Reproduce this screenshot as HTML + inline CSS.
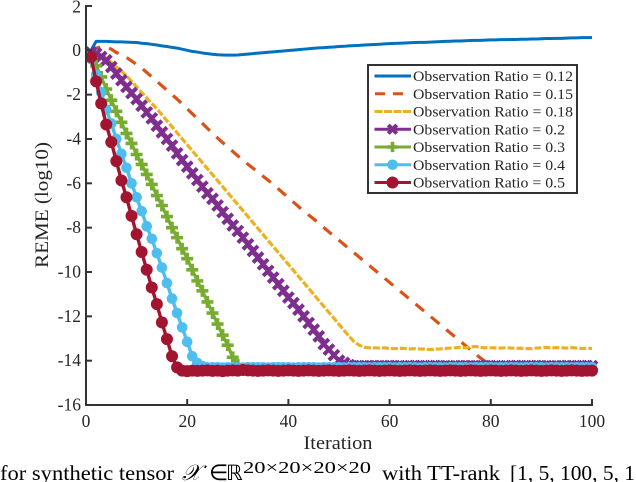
<!DOCTYPE html>
<html>
<head>
<meta charset="utf-8">
<style>
html,body{margin:0;padding:0;background:#fff;}
svg{display:block;}
text{font-family:"Liberation Serif","DejaVu Serif",serif;fill:#262626;}
</style>
</head>
<body>
<svg id="chart" width="636" height="482" viewBox="0 0 636 482" xmlns="http://www.w3.org/2000/svg">
<rect width="636" height="482" fill="#fff"/>
<g id="marks"></g>
<g id="axes"></g>
<text x="338" y="449" font-size="18.5" text-anchor="middle" textLength="69" lengthAdjust="spacingAndGlyphs">Iteration</text>
<text transform="translate(48,205) rotate(-90)" font-size="18.5" text-anchor="middle" textLength="126" lengthAdjust="spacingAndGlyphs">REME (log10)</text>
<g id="legend"></g>
<g>
<text x="0" y="480" font-size="21" style="fill:#000" textLength="174" lengthAdjust="spacingAndGlyphs">for synthetic tensor</text>
<text x="182" y="480" font-size="22" font-style="italic" style="fill:#000;font-family:'Liberation Serif','DejaVu Serif',serif">𝒳</text>
<text x="209" y="480" font-size="22" style="fill:#000;font-family:'DejaVu Sans',sans-serif">∈</text>
<text x="226" y="480" font-size="21" style="fill:#000;font-family:'DejaVu Sans',sans-serif">ℝ</text>
<text x="243" y="473" font-size="17" style="fill:#000" textLength="128" lengthAdjust="spacingAndGlyphs">20×20×20×20</text>
<text x="382" y="480" font-size="21" style="fill:#000" textLength="118" lengthAdjust="spacingAndGlyphs">with TT-rank</text>
<text x="510" y="480" font-size="21" style="fill:#000" textLength="125" lengthAdjust="spacingAndGlyphs">[1, 5, 100, 5, 1</text>
</g>
</svg>
<script>
const iterations = [1,2,3,4,5,6,7,8,9,10,11,12,13,14,15,16,17,18,19,20,21,22,23,24,25,26,27,28,29,30,31,32,33,34,35,36,37,38,39,40,41,42,43,44,45,46,47,48,49,50,51,52,53,54,55,56,57,58,59,60,61,62,63,64,65,66,67,68,69,70,71,72,73,74,75,76,77,78,79,80,81,82,83,84,85,86,87,88,89,90,91,92,93,94,95,96,97,98,99,100];
const seriesR012 = [0,0.4,0.4,0.4,0.39,0.38,0.38,0.37,0.36,0.35,0.32,0.3,0.27,0.24,0.2,0.17,0.13,0.1,0.05,0,-0.05,-0.08,-0.12,-0.15,-0.18,-0.2,-0.21,-0.22,-0.22,-0.21,-0.19,-0.17,-0.15,-0.13,-0.11,-0.09,-0.07,-0.05,-0.03,-0.01,0.01,0.03,0.05,0.07,0.09,0.11,0.12,0.14,0.15,0.17,0.18,0.2,0.21,0.22,0.24,0.25,0.26,0.27,0.29,0.3,0.31,0.32,0.33,0.34,0.35,0.36,0.36,0.37,0.38,0.39,0.4,0.41,0.42,0.42,0.43,0.44,0.45,0.45,0.46,0.47,0.47,0.48,0.48,0.49,0.49,0.5,0.5,0.51,0.51,0.52,0.53,0.53,0.54,0.54,0.55,0.56,0.56,0.57,0.57,0.58];
const seriesR015 = [-0.1,0.1,0.15,0.15,0.05,-0.1,-0.2,-0.32,-0.48,-0.64,-0.8,-1.0,-1.2,-1.4,-1.6,-1.8,-2.0,-2.2,-2.42,-2.64,-2.86,-3.08,-3.3,-3.52,-3.74,-3.96,-4.16,-4.36,-4.56,-4.76,-4.96,-5.14,-5.32,-5.5,-5.68,-5.86,-6.05,-6.25,-6.45,-6.65,-6.85,-7.05,-7.25,-7.43,-7.61,-7.8,-8,-8.19,-8.38,-8.57,-8.76,-8.95,-9.14,-9.33,-9.52,-9.71,-9.9,-10.09,-10.28,-10.47,-10.66,-10.85,-11.04,-11.23,-11.42,-11.61,-11.8,-11.99,-12.18,-12.37,-12.56,-12.75,-12.94,-13.13,-13.32,-13.51,-13.7,-13.89,-14.05,-14.2,-14.3,-14.3,-14.3,-14.3,-14.3,-14.3,-14.3,-14.3,-14.3,-14.3,-14.3,-14.3,-14.3,-14.3,-14.3,-14.3,-14.3,-14.3,-14.3,-14.3];
const seriesR018 = [-0.1,-0.1,-0.2,-0.35,-0.55,-0.75,-0.95,-1.15,-1.4,-1.65,-1.9,-2.15,-2.4,-2.64,-2.91,-3.18,-3.45,-3.72,-3.99,-4.26,-4.53,-4.8,-5.07,-5.34,-5.61,-5.88,-6.15,-6.42,-6.69,-6.96,-7.23,-7.5,-7.77,-8.04,-8.31,-8.58,-8.85,-9.12,-9.39,-9.66,-9.93,-10.2,-10.47,-10.74,-11.01,-11.28,-11.55,-11.82,-12.09,-12.36,-12.63,-12.9,-13.15,-13.3,-13.4,-13.42,-13.42,-13.43,-13.42,-13.45,-13.46,-13.44,-13.45,-13.47,-13.46,-13.47,-13.48,-13.5,-13.48,-13.47,-13.45,-13.43,-13.42,-13.4,-13.42,-13.38,-13.36,-13.4,-13.42,-13.42,-13.42,-13.43,-13.42,-13.43,-13.44,-13.44,-13.45,-13.46,-13.43,-13.42,-13.4,-13.43,-13.41,-13.42,-13.43,-13.41,-13.43,-13.45,-13.44,-13.45];
const seriesR02 = [-0.1,-0.15,-0.3,-0.45,-0.75,-1.05,-1.35,-1.65,-1.93,-2.2,-2.5,-2.8,-3.07,-3.4,-3.7,-4,-4.3,-4.65,-4.95,-5.25,-5.55,-5.85,-6.15,-6.45,-6.7,-7,-7.3,-7.6,-7.9,-8.15,-8.45,-8.75,-9.05,-9.35,-9.65,-9.95,-10.25,-10.55,-10.85,-11.15,-11.4,-11.7,-12,-12.3,-12.6,-12.9,-13.25,-13.5,-13.75,-14,-14.1,-14.2,-14.25,-14.25,-14.25,-14.25,-14.24,-14.25,-14.25,-14.24,-14.25,-14.25,-14.26,-14.25,-14.24,-14.25,-14.25,-14.25,-14.24,-14.25,-14.25,-14.26,-14.25,-14.25,-14.24,-14.25,-14.25,-14.25,-14.24,-14.25,-14.25,-14.26,-14.25,-14.25,-14.24,-14.25,-14.25,-14.25,-14.24,-14.25,-14.25,-14.26,-14.25,-14.25,-14.24,-14.25,-14.25,-14.25,-14.24,-14.25];
const seriesR03 = [-0.3,-0.7,-1.2,-1.75,-2.25,-2.75,-3.25,-3.75,-4.2,-4.7,-5.15,-5.6,-6.05,-6.55,-7,-7.5,-8,-8.45,-8.95,-9.4,-9.9,-10.4,-10.85,-11.35,-11.85,-12.35,-12.85,-13.3,-13.85,-14.2,-14.4,-14.4,-14.4,-14.4,-14.4,-14.4,-14.4,-14.4,-14.4,-14.4,-14.4,-14.4,-14.4,-14.4,-14.4,-14.4,-14.4,-14.4,-14.4,-14.4,-14.4,-14.4,-14.4,-14.4,-14.4,-14.4,-14.4,-14.4,-14.4,-14.4,-14.4,-14.4,-14.4,-14.4,-14.4,-14.4,-14.4,-14.4,-14.4,-14.4,-14.4,-14.4,-14.4,-14.4,-14.4,-14.4,-14.4,-14.4,-14.4,-14.4,-14.4,-14.4,-14.4,-14.4,-14.4,-14.4,-14.4,-14.4,-14.4,-14.4,-14.4,-14.4,-14.4,-14.4,-14.4,-14.4,-14.4,-14.4,-14.4,-14.4];
const seriesR04 = [-0.4,-1.1,-1.9,-2.67,-3.3,-4,-4.67,-5.3,-6,-6.63,-7.26,-7.94,-8.5,-9.15,-9.8,-10.5,-11.2,-11.85,-12.5,-13.15,-13.8,-14.1,-14.25,-14.3,-14.3,-14.3,-14.31,-14.3,-14.3,-14.3,-14.31,-14.3,-14.3,-14.3,-14.3,-14.31,-14.3,-14.3,-14.3,-14.3,-14.31,-14.3,-14.3,-14.3,-14.3,-14.31,-14.3,-14.3,-14.3,-14.3,-14.31,-14.3,-14.3,-14.3,-14.3,-14.31,-14.3,-14.3,-14.3,-14.3,-14.31,-14.3,-14.3,-14.3,-14.3,-14.31,-14.3,-14.3,-14.3,-14.3,-14.31,-14.3,-14.3,-14.3,-14.3,-14.31,-14.3,-14.3,-14.3,-14.3,-14.31,-14.3,-14.3,-14.3,-14.3,-14.31,-14.3,-14.3,-14.3,-14.3,-14.31,-14.3,-14.3,-14.3,-14.3,-14.31,-14.3,-14.3,-14.3,-14.3];
const seriesR05 = [-0.3,-1.4,-2.4,-3.35,-4.14,-5,-5.87,-6.63,-7.47,-8.3,-9.1,-9.9,-10.7,-11.45,-12.27,-13.03,-13.8,-14.3,-14.45,-14.47,-14.45,-14.46,-14.45,-14.44,-14.46,-14.45,-14.47,-14.45,-14.44,-14.45,-14.42,-14.44,-14.45,-14.46,-14.45,-14.44,-14.45,-14.46,-14.45,-14.44,-14.45,-14.46,-14.45,-14.44,-14.45,-14.46,-14.45,-14.44,-14.45,-14.46,-14.45,-14.44,-14.45,-14.46,-14.45,-14.44,-14.45,-14.46,-14.45,-14.44,-14.45,-14.46,-14.45,-14.44,-14.45,-14.46,-14.45,-14.44,-14.45,-14.46,-14.45,-14.44,-14.45,-14.46,-14.45,-14.44,-14.45,-14.46,-14.45,-14.44,-14.45,-14.46,-14.45,-14.44,-14.45,-14.46,-14.45,-14.44,-14.45,-14.46,-14.45,-14.44,-14.45,-14.46,-14.45,-14.44,-14.45,-14.46,-14.45,-14.45];
const xTicks = [0,20,40,60,80,100];
const yTicks = [2,0,-2,-4,-6,-8,-10,-12,-14,-16];
const legendLabels = ["Observation Ratio = 0.12","Observation Ratio = 0.15","Observation Ratio = 0.18","Observation Ratio = 0.2","Observation Ratio = 0.3","Observation Ratio = 0.4","Observation Ratio = 0.5"];

const NS = "http://www.w3.org/2000/svg";
const xPos = function (v) { return 86 + (v - 0) * 5.06; };
const yPos = function (v) { return 50.3 - v * 22.17; };
const make = function (tag, parent, attrs) {
  const el = document.createElementNS(NS, tag);
  for (const k in attrs) el.setAttribute(k, attrs[k]);
  parent.appendChild(el);
  return el;
};
const drawMarker = function (parent, kind, cx, cy, color, scale) {
  if (kind === "x") {
    const h = 5 * scale;
    const m = make("path", parent, {d: "M" + (cx - h) + " " + (cy - h) + "L" + (cx + h) + " " + (cy + h) + "M" + (cx - h) + " " + (cy + h) + "L" + (cx + h) + " " + (cy - h), stroke: color, "stroke-width": 4, fill: "none"});
    
    
  } else if (kind === "plus") {
    const h = 6 * scale;
    const m = make("path", parent, {d: "M" + (cx - h) + " " + cy + "L" + (cx + h) + " " + cy + "M" + cx + " " + (cy - h) + "L" + cx + " " + (cy + h), stroke: color, "stroke-width": 3.6, fill: "none"});
    
    
  } else if (kind === "dot" || kind === "bigdot") {
    const m = make("circle", parent, {cx: cx, cy: cy, r: kind === "dot" ? 5.3 : 6, fill: color});
    
    
  }
};

const seriesList = [
  {values: seriesR012, color: "#0072BD", dash: "", marker: "", width: 3},
  {values: seriesR015, color: "#D95319", dash: "11 9", marker: "", width: 3.2},
  {values: seriesR018, color: "#EDB120", dash: "7 2", marker: "", width: 3.2},
  {values: seriesR02, color: "#7E2F8E", dash: "", marker: "x", width: 3.2},
  {values: seriesR03, color: "#77AC30", dash: "", marker: "plus", width: 3.2},
  {values: seriesR04, color: "#4DBEEE", dash: "", marker: "dot", width: 3.4},
  {values: seriesR05, color: "#A2142F", dash: "", marker: "bigdot", width: 3.4}
];

const marks = document.getElementById("marks");
seriesList.forEach(function (s, idx) {
  const g = make("g", marks, {});
  
  
  let d = "";
  s.values.forEach(function (v, i) {
    d += (i ? "L" : "M") + xPos(iterations[i]).toFixed(2) + " " + yPos(v).toFixed(2);
  });
  const line = make("path", g, {d: d, fill: "none", stroke: s.color, "stroke-width": s.width, "stroke-linejoin": "round"});
  if (s.dash) line.setAttribute("stroke-dasharray", s.dash);
  
  
  if (s.marker) {
    s.values.forEach(function (v, i) {
      drawMarker(g, s.marker, xPos(iterations[i]), yPos(v), s.color, 1);
    });
  }
});

const axes = document.getElementById("axes");
const axisColor = "#333333";
const yAxisLine = make("line", axes, {x1: xPos(0), x2: xPos(0), y1: yPos(2) - 1, y2: yPos(-16) + 1, stroke: axisColor, "stroke-width": 2});


const xAxisLine = make("line", axes, {x1: xPos(0) - 1, x2: xPos(100) + 1, y1: yPos(-16), y2: yPos(-16), stroke: axisColor, "stroke-width": 2});


xTicks.forEach(function (t) {
  const tick = make("line", axes, {x1: xPos(t), x2: xPos(t), y1: yPos(-16), y2: yPos(-16) - 6, stroke: axisColor, "stroke-width": 2});
  
  
  const lab = make("text", axes, {x: xPos(t), y: 427, "font-size": 17.5, "text-anchor": "middle"});
  lab.textContent = String(t);
  
  
});
yTicks.forEach(function (t) {
  const tick = make("line", axes, {x1: xPos(0), x2: xPos(0) + 6, y1: yPos(t), y2: yPos(t), stroke: axisColor, "stroke-width": 2});
  
  
  const lab = make("text", axes, {x: 81, y: yPos(t) + 5.5 + (t === 2 ? 1 : 0), "font-size": 17.5, "text-anchor": "end"});
  lab.textContent = String(t);
  
  
});

const legend = document.getElementById("legend");
const legendBox = make("rect", legend, {x: 368, y: 65, width: 209, height: 128, fill: "#fff", stroke: axisColor, "stroke-width": 2});


seriesList.forEach(function (s, i) {
  const y = 76 + i * 17.75;
  const g = make("g", legend, {});
  
  
  const ln = make("line", g, {x1: s.dash === "11 9" ? 375 : 374.5, x2: 411, y1: y, y2: y, stroke: s.color, "stroke-width": 3});
  if (s.dash) ln.setAttribute("stroke-dasharray", s.dash === "11 9" ? "10 8" : "8 1.5");
  
  
  if (s.marker) drawMarker(g, s.marker, 392.5, y, s.color, 0.85);
  const tx = make("text", g, {x: 413, y: y + 5, "font-size": 14.5});
  tx.textContent = legendLabels[i];
  tx.setAttribute("textLength", i < 3 ? 160 : 152);
  tx.setAttribute("lengthAdjust", "spacingAndGlyphs");
  
  
});
</script>
</body>
</html>
